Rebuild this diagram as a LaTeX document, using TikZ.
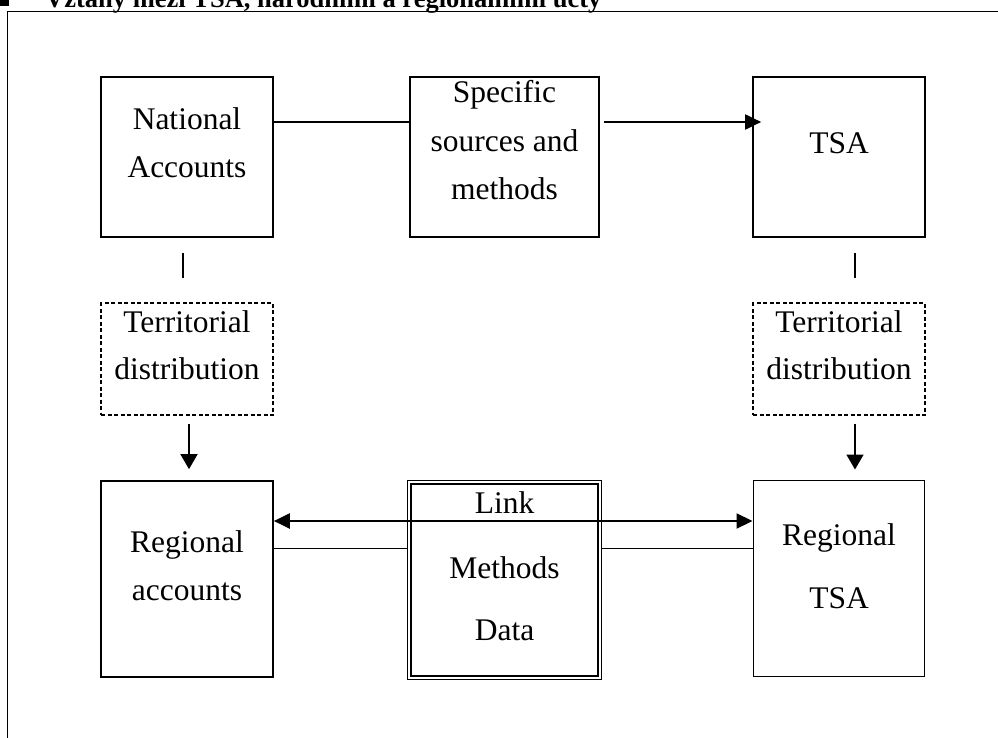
\documentclass[tikz,border=0pt]{standalone}
\usepackage{fontspec}
\setmainfont{Liberation Serif}
\usetikzlibrary{arrows.meta}
\begin{document}
\begin{tikzpicture}[x=1pt,y=-1pt,
  box/.style={draw, line width=1.7pt, inner sep=0pt},
  thinbox/.style={draw, line width=1pt, inner sep=0pt},
  dashbox/.style={draw, line width=1.3pt, dash pattern=on 4pt off 2.5pt, inner sep=0pt},
  txt/.style={inner sep=0pt, anchor=base, font=\fontsize{31.5}{36}\selectfont},
  conn/.style={line width=1.3pt},
  thinconn/.style={line width=1pt},
  arr/.style={line width=2pt, -{Triangle[length=16pt,width=15pt]}},
  darr/.style={line width=2.2pt, {Triangle[length=16pt,width=15pt]}-{Triangle[length=16pt,width=15pt]}},
  varr/.style={line width=1.7pt, -{Triangle[length=15pt,width=17pt]}}
]
\useasboundingbox (0,0) rectangle (998,738);
\begin{scope}
\clip (0,0) rectangle (998,738);
\fill (0,0) rectangle (9,6);
\node[inner sep=0pt, anchor=base west, font=\bfseries\fontsize{26.5}{30}\selectfont] (title) at (45,8) {Vztahy mezi TSA, národními a regionálními účty};
\end{scope}
\draw[line width=1.3pt] (998,11.7) -- (7.5,11.7) -- (7.5,738);

% boxes
\node[box, minimum width=172pt, minimum height=160pt] (na) at (187,157) {};
\node[box, minimum width=189pt, minimum height=160pt] (sp) at (504.5,157) {};
\node[box, minimum width=172pt, minimum height=160pt] (tsa) at (839,157) {};
\node[dashbox, minimum width=172pt, minimum height=112pt] (tdl) at (187,359) {};
\node[dashbox, minimum width=172pt, minimum height=112pt] (tdr) at (839,359) {};
\node[box, minimum width=172pt, minimum height=196pt] (ra) at (187,578.7) {};
\node[thinbox, minimum width=171pt, minimum height=196pt] (rt) at (838.5,578) {};
\node[thinbox, minimum width=194pt, minimum height=199pt] (lkout) at (504,579.5) {};
\node[draw, line width=2.6pt, inner sep=0pt, minimum width=187pt, minimum height=192pt] (lkin) at (504.5,580) {};

% texts
\node[txt] (na1) at (187,130) {National};
\node[txt] (na2) at (187,178) {Accounts};
\node[txt] (sp1) at (504.5,103) {Specific};
\node[txt] (sp2) at (504.5,152) {sources and};
\node[txt] (sp3) at (504.5,200) {methods};
\node[txt] (tsa1) at (839,154) {TSA};
\node[txt] (tdl1) at (187,332) {Territorial};
\node[txt] (tdl2) at (187,379) {distribution};
\node[txt] (tdr1) at (839,332) {Territorial};
\node[txt] (tdr2) at (839,379) {distribution};
\node[txt] (ra1) at (187,552) {Regional};
\node[txt] (ra2) at (187,600) {accounts};
\node[txt] (lk1) at (504.5,513) {Link};
\node[txt] (lk2) at (504.5,578) {Methods};
\node[txt] (lk3) at (504.5,640) {Data};
\node[txt] (rt1) at (839,545) {Regional};
\node[txt] (rt2) at (839,608) {TSA};

% connectors
\coordinate (yTop) at (0,122);
\coordinate (yDbl) at (0,521);
\coordinate (yThin) at (0,548);
\draw[conn] (na.east |- yTop) -- (sp.west |- yTop);
\draw[arr] ([xshift=4pt]sp.east |- yTop) -- ([xshift=9pt]tsa.west |- yTop);

\coordinate (tl1) at (183,253);
\coordinate (tl2) at (183,278);
\coordinate (tr1) at (855,253);
\coordinate (tr2) at (855,278);
\draw[conn] (tl1) -- (tl2);
\draw[conn] (tr1) -- (tr2);

\draw[varr] ([xshift=2pt,yshift=-8pt]tdl.south) -- ([xshift=2pt,yshift=10.7pt]ra.north);
\draw[varr] ([xshift=16pt,yshift=-8pt]tdr.south) -- ([xshift=16.5pt,yshift=10pt]rt.north);

\draw[darr] (ra.east |- yDbl) -- (rt.west |- yDbl);
\draw[thinconn] (ra.east |- yThin) -- (lkout.west |- yThin);
\draw[thinconn] (lkout.east |- yThin) -- (rt.west |- yThin);
\end{tikzpicture}
\end{document}
